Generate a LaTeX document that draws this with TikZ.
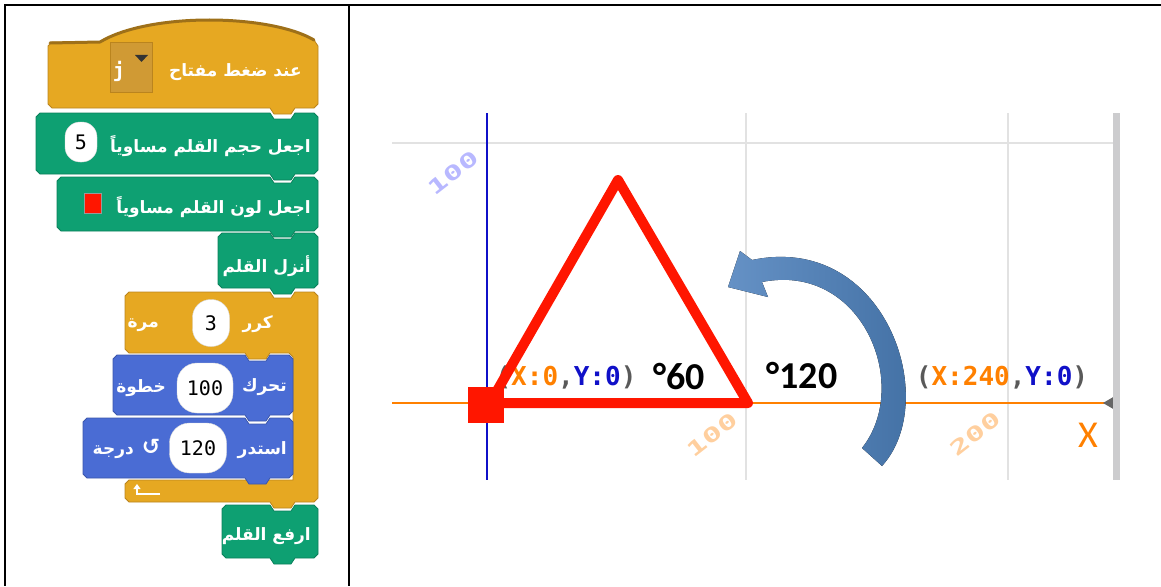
\documentclass[tikz,border=0pt]{standalone}
\usepackage{fontspec}
\usepackage{xcolor}
\usepackage{tikz}
\usetikzlibrary{positioning,calc,arrows.meta}
\TeXXeTstate=1
\newfontfamily\arabicfont[Script=Arabic]{DejaVu Sans}
\newfontfamily\coordfont{DejaVu Sans Mono}
\newfontfamily\labelfont{Carlito}
\definecolor{scrgold}{RGB}{230,168,34}
\definecolor{scrgoldedge}{RGB}{186,132,30}
\definecolor{scrdrop}{RGB}{208,154,52}
\definecolor{scrgreen}{RGB}{14,160,114}
\definecolor{scrblue}{RGB}{74,108,212}
\definecolor{penred}{RGB}{255,22,0}
\definecolor{axisorange}{RGB}{255,128,0}
\definecolor{axisblue}{RGB}{16,16,200}
\definecolor{gridgray}{RGB}{226,226,226}
\definecolor{bargray}{RGB}{204,204,206}
\definecolor{arrowblue}{RGB}{74,126,187}
\definecolor{arrowdark}{RGB}{62,108,160}

% block outline: colour, left, top, right, bottom (pixels, y down)
\newcommand{\scrblock}[5]{%
  \filldraw[fill=#1, draw=#1!80!black, line width=0.8pt]
    ({#2+4},#3) -- ({#4-48},#3) -- ({#4-44},{#3+6}) -- ({#4-27},{#3+6}) -- ({#4-23},#3)
    -- ({#4-4},#3) -- (#4,{#3+4}) -- (#4,{#5-4}) -- ({#4-4},#5)
    -- ({#4-23},#5) -- ({#4-27},{#5+6}) -- ({#4-44},{#5+6}) -- ({#4-48},#5)
    -- ({#2+4},#5) -- (#2,{#5-4}) -- (#2,{#3+4}) -- cycle;}

\begin{document}
\begin{tikzpicture}[
    x=1pt, y=-1pt,
    blocktext/.style={text=white, font=\arabicfont\bfseries\fontsize{17}{17}\selectfont, anchor=east, inner sep=0pt},
    slot/.style={draw=black!15, fill=white, rounded corners=#1, inner sep=0pt, text=black, font=\coordfont\fontsize{20}{20}\selectfont},
    coordtext/.style={font=\coordfont\bfseries\fontsize{26}{26}\selectfont, inner sep=0pt},
    angletext/.style={font=\labelfont\bfseries\fontsize{38}{38}\selectfont, inner sep=0pt},
    ticklabel/.style={font=\coordfont\bfseries\fontsize{20}{20}\selectfont, rotate=38, inner sep=0pt, text=#1},
    gridline/.style={draw=gridgray, line width=2pt},
]
    \useasboundingbox (0,0) rectangle (1161,586);

    % Table rules
    \draw[line width=2.5pt] (4,5) -- (1161,5);
    \draw[line width=2.5pt] (5,5) -- (5,586);
    \draw[line width=2pt] (349,5) -- (349,586);

    % Hat block: when key pressed
    \filldraw[fill=scrgold, draw=scrgoldedge, line width=0.8pt]
      (48,46) -- (52,42) -- (100,42) .. controls (150,12) and (270,14) .. (314,40) -- (318,46)
      -- (318,104) -- (314,108) -- (295,108) -- (291,114) -- (274,114) -- (270,108)
      -- (52,108) -- (48,104) -- cycle;
    \draw[draw=scrgoldedge!85!black, line width=3pt, line cap=round]
      (50,43) -- (100,42) .. controls (150,12) and (270,14) .. (314,40);
    \node[draw=scrgoldedge, fill=scrdrop, minimum width=42, minimum height=50, inner sep=0pt] (keydrop) at (131,67) {};
    \node[text=white, font=\coordfont\bfseries\fontsize{20}{20}\selectfont, inner sep=0pt] (keyj) at (119,71) {j};
    \fill[black!80] (135,55) -- (148,55) -- (141.5,62) -- cycle;
    \node[blocktext] (hattext) at (302,72) {\arabicfont\beginR عند ضغط مفتاح\endR};

    % Pen blocks
    \scrblock{scrgreen}{36}{113}{318}{174}
    \node[blocktext] (sizetext) at (311,146) {\arabicfont\beginR اجعل حجم القلم مساوياً\endR};
    \node[slot=15pt, minimum width=32, minimum height=40] (sizeslot) at (81,142) {5};

    \scrblock{scrgreen}{57}{177}{318}{231}
    \node[blocktext] (colortext) at (311,207) {\arabicfont\beginR اجعل لون القلم مساوياً\endR};
    \node[draw=black!40, fill=penred, minimum width=17, minimum height=20, inner sep=0pt] (colorbox) at (93,203) {};

    \scrblock{scrgreen}{218}{233}{318}{288}
    \node[blocktext] (downtext) at (311,266) {\arabicfont\beginR أنزل القلم\endR};

    % Repeat block
    \filldraw[fill=scrgold, draw=scrgoldedge, line width=0.8pt]
      (129,292) -- (270,292) -- (274,298) -- (291,298) -- (295,292) -- (314,292) -- (318,296)
      -- (318,498) -- (314,502) -- (295,502) -- (291,508) -- (274,508) -- (270,502)
      -- (129,502) -- (125,498) -- (125,484) -- (129,480) -- (293,480) -- (293,357)
      -- (289,353) -- (270,353) -- (266,359) -- (249,359) -- (245,353)
      -- (129,353) -- (125,349) -- (125,296) -- cycle;
    \node[blocktext] (repeattext) at (273,324) {\arabicfont\beginR كرر\endR};
    \node[slot=18pt, minimum width=37, minimum height=47] (repeatslot) at (211,323) {3};
    \node[blocktext] (timestext) at (159,325) {\arabicfont\beginR مرة\endR};
    \draw[white, line width=2.5pt, -{Triangle[length=5pt, width=7pt]}] (160,494) -- (137,494) -- (137,484);

    % Motion blocks
    \scrblock{scrblue}{113}{355}{293}{415}
    \node[blocktext] (movetext) at (287,387) {\arabicfont\beginR تحرك\endR};
    \node[slot=20pt, minimum width=56, minimum height=50] (moveslot) at (205,388) {100};
    \node[blocktext] (stepstext) at (166,388) {\arabicfont\beginR خطوة\endR};

    \scrblock{scrblue}{83}{418}{293}{478}
    \node[blocktext] (turntext) at (287,450) {\arabicfont\beginR استدر\endR};
    \node[slot=20pt, minimum width=57, minimum height=50] (turnslot) at (198,448) {120};
    \node[text=white, font=\arabicfont\bfseries\fontsize{22}{22}\selectfont, inner sep=0pt] (turnicon) at (151,447) {↺};
    \node[blocktext] (degtext) at (134,452) {\arabicfont\beginR درجة\endR};

    \scrblock{scrgreen}{222}{505}{318}{558}
    \node[blocktext] (uptext) at (311,536) {\arabicfont\beginR ارفع القلم\endR};

    % Stage grid and axes
    \draw[gridline] (392,143) -- (1113,143);
    \draw[gridline] (746,113) -- (746,480);
    \draw[gridline] (1008,113) -- (1008,480);
    \draw[axisblue, line width=1.8pt] (487,113) -- (487,480);
    \draw[axisorange, line width=2pt] (392,403) -- (1110,403);
    \fill[black!60] (1115,396) -- (1103,403) -- (1115,410) -- cycle;
    \draw[bargray, line width=7pt] (1116,113) -- (1116,480);

    \node[ticklabel={blue!28}] (ylab) at (453,173) {\scalebox{1.6}[1]{100}};
    \node[ticklabel={orange!38}] (xlab1) at (712,435) {\scalebox{1.6}[1]{100}};
    \node[ticklabel={orange!38}] (xlab2) at (975,434) {\scalebox{1.6}[1]{200}};
    \node[font=\labelfont\fontsize{38}{38}\selectfont, text=axisorange, inner sep=0pt] (xname) at (1088,435) {X};

    % Coordinates and angles
    \node[coordtext] (startpos) at (566,377) {\textcolor{black!65}{(}\textcolor{axisorange}{X:0}\textcolor{black!65}{,}\textcolor{axisblue}{Y:0}\textcolor{black!65}{)}};
    \node[coordtext] (endpos) at (1002,377) {\textcolor{black!65}{(}\textcolor{axisorange}{X:240}\textcolor{black!65}{,}\textcolor{axisblue}{Y:0}\textcolor{black!65}{)}};
    \node[angletext] (inner) at (679,377) {°60};
    \node[angletext] (outer) at (802,375) {°120};

    % Pen path
    \coordinate (pA) at (490,403);
    \coordinate (pB) at (618,180);
    \coordinate (pC) at (748,403);
    \draw[penred, line width=10pt, line join=round] (pA) -- (pB) -- (pC) -- cycle;
    \node[fill=penred, minimum size=36, inner sep=0pt] (pen) at (486,405) {};

    % Turn arrow
    \fill[left color=arrowblue!85!white, right color=arrowdark]
      (882,466) .. controls (942,400) and (885,232) .. (752,260)
      -- (740,251) -- (728,287) -- (768,297) -- (762,282)
      .. controls (862,262) and (912,385) .. (862,448) -- cycle;
\end{tikzpicture}
\end{document}
